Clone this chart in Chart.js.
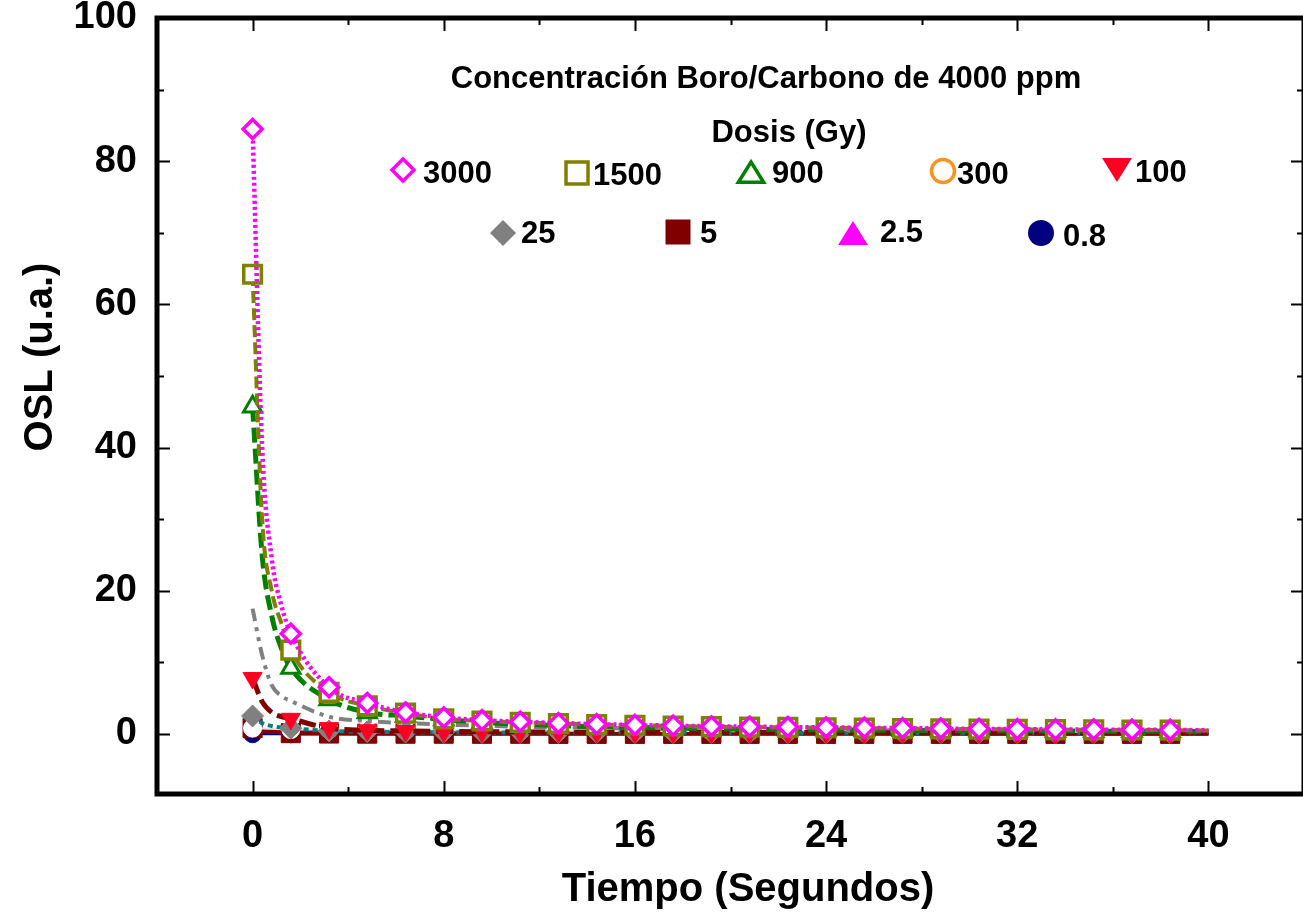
<!DOCTYPE html>
<html>
<head>
<meta charset="utf-8">
<script src="https://cdn.jsdelivr.net/npm/chart.js@4.4.0/dist/chart.umd.min.js"></script>
<style>
  html, body { margin: 0; padding: 0; background: #fff; overflow: hidden; width: 1303px; height: 917px; }
  #wrap { width: 1320px; height: 917px; }
</style>
</head>
<body>
<div id="wrap"><canvas id="oslChart" width="1320" height="917" style="width:1320px;height:917px"></canvas></div>
<script>
// tiempos (s) y valores OSL
const tiempo = [0, 0.4, 0.8, 1.2, 1.6, 3.2, 4.8, 6.4, 8, 9.6, 11.2, 12.8, 14.4, 16, 17.6, 19.2, 20.8, 22.4, 24, 25.6, 27.2, 28.8, 30.4, 32, 33.6, 35.2, 36.8, 38.4, 40];
const sinMarca = [0.4, 0.8, 1.2, 40]; // puntos de la curva sin simbolo

const dosis3000 = [84.5, 40, 24.5, 18, 14, 6.5, 4.3, 3.0, 2.3, 1.9, 1.7, 1.5, 1.35, 1.25, 1.15, 1.05, 1.0, 0.95, 0.9, 0.85, 0.8, 0.75, 0.7, 0.65, 0.62, 0.6, 0.57, 0.55, 0.5];
const dosis1500 = [64.2, 30, 20, 15.5, 11.7, 5.8, 3.9, 2.9, 2.1, 1.8, 1.6, 1.45, 1.3, 1.2, 1.1, 1.0, 0.95, 0.9, 0.85, 0.8, 0.75, 0.7, 0.66, 0.62, 0.6, 0.57, 0.54, 0.52, 0.48];
const dosis900 = [45.7, 25, 16.5, 12, 9.2, 4.8, 3.0, 2.5, 2.0, 1.6, 1.35, 1.15, 1.0, 0.9, 0.8, 0.72, 0.66, 0.6, 0.56, 0.52, 0.49, 0.46, 0.44, 0.42, 0.4, 0.38, 0.36, 0.35, 0.33];
const dosis300 = [0.8, 0.75, 0.7, 0.65, 0.6, 0.6, 0.55, 0.5, 0.5, 0.48, 0.46, 0.44, 0.42, 0.4, 0.39, 0.38, 0.37, 0.36, 0.35, 0.34, 0.33, 0.32, 0.31, 0.3, 0.3, 0.29, 0.28, 0.28, 0.27];
const dosis100 = [7.8, 4.5, 3.0, 2.4, 2.1, 0.8, 0.5, 0.4, 0.33, 0.3, 0.27, 0.25, 0.23, 0.22, 0.2, 0.2, 0.19, 0.18, 0.18, 0.17, 0.17, 0.16, 0.16, 0.15, 0.15, 0.15, 0.14, 0.14, 0.14];
const dosis25 = [2.5, 1.5, 1.1, 0.9, 0.8, 0.4, 0.3, 0.25, 0.22, 0.2, 0.2, 0.19, 0.18, 0.18, 0.17, 0.17, 0.16, 0.16, 0.15, 0.15, 0.15, 0.14, 0.14, 0.14, 0.13, 0.13, 0.13, 0.12, 0.12];
const dosis5 = [0.8, 0.45, 0.3, 0.2, 0.1, 0.05, 0.03, 0.02, 0.02, 0.01, 0.01, 0, 0, 0, 0, 0, 0, 0, 0, 0, 0, 0, 0, 0, 0, 0, 0, 0, 0];
const dosis2_5 = [0.4, 0.35, 0.32, 0.3, 0.28, 0.22, 0.2, 0.18, 0.17, 0.16, 0.15, 0.15, 0.14, 0.14, 0.13, 0.13, 0.12, 0.12, 0.12, 0.11, 0.11, 0.11, 0.1, 0.1, 0.1, 0.1, 0.1, 0.1, 0.1];
const dosis0_8 = [0.02, 0.02, 0.02, 0.02, 0.02, 0.02, 0.02, 0.02, 0.02, 0.02, 0.02, 0.02, 0.02, 0.02, 0.02, 0.02, 0.02, 0.02, 0.02, 0.02, 0.02, 0.02, 0.02, 0.02, 0.02, 0.02, 0.02, 0.02, 0.02];
const curvaGris = [17.5, 11, 6.8, 5.3, 4.6, 2.4, 1.8, 1.5, 1.3, 1.15, 1.0, 0.92, 0.85, 0.78, 0.72, 0.67, 0.62, 0.58, 0.55, 0.52, 0.49, 0.46, 0.44, 0.42, 0.4, 0.38, 0.36, 0.35, 0.33];

const ticksX = [0, 8, 16, 24, 32, 40];
const ticksY = [0, 20, 40, 60, 80, 100];
const etiquetas = ['3000', '1500', '900', '300', '100', '25', '5', '2.5', '0.8'];

const puntos = vals => tiempo.map((t, i) => ({ x: t, y: vals[i] }));

function serie(label, vals, o) {
    return {
        label: label,
        data: puntos(vals),
        borderColor: o.linea,
        borderWidth: o.ancho || 3,
        borderDash: o.dash || [],
        cubicInterpolationMode: 'monotone',
        pointStyle: o.forma || false,
        pointRotation: o.giro || 0,
        pointRadius: ctx => {
            const t = tiempo[ctx.dataIndex];
            if (sinMarca.includes(t) || !o.forma) return 0;
            return o.r;
        },
        pointBorderColor: o.marca,
        pointBackgroundColor: o.relleno,
        pointBorderWidth: o.bw || 3,
        order: o.orden,
        fill: false
    };
}

const datasets = [
    serie('3000', dosis3000, { linea: '#FF00FF', dash: [3, 3], ancho: 4.5, forma: 'rectRot', r: 9.5, bw: 3.5, marca: '#FF00FF', relleno: '#FFFFFF', orden: 0 }),
    serie('1500', dosis1500, { linea: '#808000', dash: [12, 5], ancho: 4, forma: 'rect', r: 12.5, bw: 3.5, marca: '#808000', relleno: '#FFFFFF', orden: 1 }),
    serie('900', dosis900, { linea: '#008000', dash: [15, 6], ancho: 5, forma: 'triangle', r: 10.5, bw: 3, marca: '#008000', relleno: '#FFFFFF', orden: 2 }),
    serie('100', dosis100, { linea: '#800000', dash: [17, 6], ancho: 5, forma: 'triangle', giro: 180, r: 11, marca: '#FF0022', relleno: '#FF0022', bw: 1, orden: 3 }),
    serie('', curvaGris, { linea: '#808080', dash: [13, 6, 4, 6, 4, 6], ancho: 4, orden: 4 }),
    serie('25', dosis25, { linea: '#008080', dash: [5, 4], ancho: 4, forma: 'rectRot', r: 11, marca: '#808080', relleno: '#808080', bw: 1, orden: 5 }),
    serie('300', dosis300, { linea: '#E0E0E0', ancho: 2, forma: 'circle', r: 9, marca: '#FFFFFF', relleno: '#FFFFFF', bw: 1, orden: 6 }),
    serie('5', dosis5, { linea: '#800000', ancho: 4, forma: 'rect', r: 13.5, marca: '#800000', relleno: '#800000', bw: 1, orden: 7 }),
    serie('2.5', dosis2_5, { linea: '#800080', ancho: 4, forma: 'triangle', r: 9, marca: '#FF00FF', relleno: '#FF00FF', bw: 1, orden: 8 }),
    serie('0.8', dosis0_8, { linea: '#000080', ancho: 3, forma: 'circle', r: 9, marca: '#000080', relleno: '#000080', bw: 1, orden: 9 })
];

// simbolos de la leyenda
function simbolo(ctx, forma, x, y, r, color, lleno) {
    ctx.save();
    ctx.beginPath();
    if (forma === 'rombo') {
        ctx.moveTo(x, y - r); ctx.lineTo(x + r, y); ctx.lineTo(x, y + r); ctx.lineTo(x - r, y);
    } else if (forma === 'cuadro') {
        ctx.rect(x - r, y - r, 2 * r, 2 * r);
    } else if (forma === 'tri') {
        ctx.moveTo(x, y - r); ctx.lineTo(x + r * 1.15, y + r * 0.85); ctx.lineTo(x - r * 1.15, y + r * 0.85);
    } else if (forma === 'triInv') {
        ctx.moveTo(x, y + r); ctx.lineTo(x + r * 1.15, y - r * 0.85); ctx.lineTo(x - r * 1.15, y - r * 0.85);
    } else {
        ctx.arc(x, y, r, 0, Math.PI * 2);
    }
    ctx.closePath();
    if (lleno) {
        ctx.fillStyle = color; ctx.fill();
    } else {
        ctx.fillStyle = '#fff'; ctx.fill();
        ctx.lineWidth = 3.5; ctx.strokeStyle = color; ctx.stroke();
    }
    ctx.restore();
}

const leyendaPlugin = {
    id: 'leyendaDosis',
    afterDraw(chart) {
        const ctx = chart.ctx;
        ctx.save();
        ctx.fillStyle = '#000';
        ctx.font = 'bold 31px "Liberation Sans", Arial, sans-serif';
        ctx.textAlign = 'center';
        ctx.textBaseline = 'alphabetic';
        ctx.fillText('Concentración Boro/Carbono de 4000 ppm', 766, 88);
        ctx.fillText('Dosis (Gy)', 789, 142);

        // [forma, x simbolo, y simbolo, r, color, lleno, x texto, y texto]
        const items = [
            ['rombo', 403, 170, 11, '#FF00FF', false, 423, 183],
            ['cuadro', 577, 173, 11, '#808000', false, 593, 185],
            ['tri', 751, 173, 11, '#008000', false, 772, 183],
            ['circulo', 943, 171, 11.5, '#F7931E', false, 957, 184],
            ['triInv', 1117, 169, 13, '#FF0022', true, 1135, 182],
            ['rombo', 503, 233, 13, '#808080', true, 521, 243],
            ['cuadro', 678, 232, 12.5, '#800000', true, 700, 243],
            ['tri', 853, 234, 13, '#FF00FF', true, 880, 242],
            ['circulo', 1041, 233, 13, '#000080', true, 1063, 246]
        ];
        items.forEach((it, i) => {
            simbolo(ctx, it[0], it[1], it[2], it[3], it[4], it[5]);
            ctx.fillStyle = '#000';
            ctx.textAlign = 'left';
            ctx.fillText(etiquetas[i], it[6], it[7]);
        });

        // titulos de ejes
        ctx.font = 'bold 40px "Liberation Sans", Arial, sans-serif';
        ctx.textAlign = 'center';
        ctx.fillText('Tiempo (Segundos)', 748, 901);
        ctx.translate(52, 357);
        ctx.rotate(-Math.PI / 2);
        ctx.fillText('OSL (u.a.)', 0, 0);
        ctx.restore();
    }
};

// marco y marcas hacia dentro en los cuatro lados
const marcoPlugin = {
    id: 'marco',
    afterDatasetsDraw(chart) {
        const { ctx, chartArea: a, scales: { x, y } } = chart;
        ctx.save();
        ctx.strokeStyle = '#000';
        ctx.lineWidth = 2;
        ctx.beginPath();
        for (let v = 0; v <= 40; v += 4) {
            const px = Math.round(x.getPixelForValue(v)) + 0.5;
            const len = v % 8 === 0 ? 13 : 7;
            ctx.moveTo(px, a.bottom); ctx.lineTo(px, a.bottom - len);
            ctx.moveTo(px, a.top); ctx.lineTo(px, a.top + len);
        }
        for (let v = 0; v <= 90; v += 10) {
            const py = Math.round(y.getPixelForValue(v)) + 0.5;
            const len = v % 20 === 0 ? 13 : 7;
            ctx.moveTo(a.left, py); ctx.lineTo(a.left + len, py);
            ctx.moveTo(a.right, py); ctx.lineTo(a.right - len, py);
        }
        ctx.stroke();
        ctx.lineWidth = 5;
        ctx.strokeRect(a.left, a.top, a.right - a.left, a.bottom - a.top);
        ctx.restore();
    }
};

const fuenteTicks = { family: '"Liberation Sans", Arial, sans-serif', size: 38, weight: 'bold' };

new Chart(document.getElementById('oslChart').getContext('2d'), {
    type: 'line',
    data: { datasets: datasets },
    options: {
        responsive: false,
        animation: false,
        events: [],
        layout: { padding: { top: 18, right: 4, left: 0, bottom: 0 } },
        plugins: { legend: { display: false }, tooltip: { enabled: false } },
        scales: {
            x: {
                type: 'linear',
                min: -4,
                max: 44,
                grid: { display: false, drawTicks: false },
                border: { display: false },
                afterBuildTicks: s => { s.ticks = ticksX.map(v => ({ value: v })); },
                afterFit: s => { s.height = 123; s.paddingLeft = 0; s.paddingRight = 0; },
                ticks: { color: '#000', font: fuenteTicks, padding: 20, maxRotation: 0, autoSkip: false }
            },
            y: {
                type: 'linear',
                min: -8.4,
                max: 100,
                grid: { display: false, drawTicks: false },
                border: { display: false },
                afterBuildTicks: s => { s.ticks = ticksY.map(v => ({ value: v })); },
                afterFit: s => { s.width = 157; s.paddingTop = 0; s.paddingBottom = 0; },
                ticks: { color: '#000', font: fuenteTicks, padding: 20 }
            }
        }
    },
    plugins: [marcoPlugin, leyendaPlugin]
});
</script>
</body>
</html>
